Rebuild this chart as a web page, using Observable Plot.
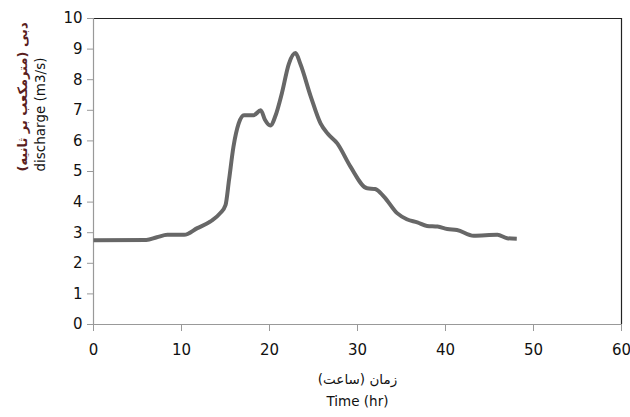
<!DOCTYPE html>
<html>
<head>
<meta charset="utf-8">
<script src="https://cdn.jsdelivr.net/npm/d3@7"></script>
<script src="https://cdn.jsdelivr.net/npm/@observablehq/plot@0.6"></script>
<style>
  html, body { margin: 0; padding: 0; background: #fff; }
  #chart svg { display: block; }
</style>
</head>
<body>
<div id="chart"></div>
<script>
// Data
const timeHr = [0, 6.0, 7.2, 8.4, 10.3, 11.8, 13.3, 14.4, 15.0, 15.4, 15.9, 16.5, 17.1, 18.2, 19.0, 19.5, 20.1, 20.7, 21.4, 22.2, 22.95, 23.5, 24.7, 25.8, 26.6, 27.7, 29.2, 31.1, 32.0, 33.0, 34.5, 35.6, 36.8, 37.9, 39.1, 40.2, 41.3, 43.2, 45.9, 47.0, 48.1];
const discharge = [2.75, 2.76, 2.85, 2.93, 2.93, 3.15, 3.37, 3.64, 3.9, 4.72, 5.8, 6.57, 6.84, 6.84, 7.0, 6.68, 6.5, 6.84, 7.55, 8.52, 8.87, 8.52, 7.44, 6.57, 6.24, 5.92, 5.16, 4.45, 4.43, 4.18, 3.64, 3.44, 3.34, 3.22, 3.2, 3.12, 3.09, 2.9, 2.93, 2.82, 2.8];
const xTicks = [0, 10, 20, 30, 40, 50, 60];
const yTicks = [0, 1, 2, 3, 4, 5, 6, 7, 8, 9, 10];
const yLabelFa = "دبی (مترمکعب بر ثانیه)";
const yLabelEn = "discharge (m3/s)";
const xLabelFa = "زمان (ساعت)";
const xLabelEn = "Time (hr)";

const data = timeHr.map((t, i) => ({t, q: discharge[i]}));

const chart = Plot.plot({
  width: 630,
  height: 417,
  marginLeft: 93,
  marginRight: 9,
  marginTop: 18,
  marginBottom: 93,
  style: {fontFamily: "'DejaVu Sans', sans-serif", fontSize: "14px", color: "#222", background: "#fff"},
  x: {domain: [0, 60]},
  y: {domain: [0, 10]},
  marks: [
    Plot.ruleY([10], {stroke: "#222", strokeWidth: 1.2}),
    Plot.ruleX([60], {stroke: "#222", strokeWidth: 1.2}),
    Plot.ruleY([0], {stroke: "#999", strokeWidth: 1.2}),
    Plot.ruleX([0], {stroke: "#999", strokeWidth: 1.2}),
    Plot.axisX({ticks: xTicks, tickSize: 7, tickPadding: 13, stroke: "#999", label: null, fontSize: 15, fill: "#111"}),
    Plot.axisY({ticks: yTicks, tickSize: 6, tickPadding: 5, stroke: "#999", label: null, fontSize: 15, fill: "#111"}),
    Plot.line(data, {x: "t", y: "q", stroke: "#676767", strokeWidth: 4, curve: "monotone-x", strokeLinejoin: "round", strokeLinecap: "butt"}),
    Plot.text([yLabelFa], {frameAnchor: "left", rotate: -90, dx: -71, fontSize: 13, fill: "#5a1e1e", fontWeight: "bold", fontFamily: "'DejaVu Sans', sans-serif"}),
    Plot.text([yLabelEn], {frameAnchor: "left", rotate: -90, dx: -53, fontSize: 13.5, fill: "#111"}),
    Plot.text([xLabelFa], {frameAnchor: "bottom", dy: 59, fontSize: 13.5, fill: "#111"}),
    Plot.text([xLabelEn], {frameAnchor: "bottom", dy: 81, fontSize: 13.5, fill: "#111"})
  ]
});
document.getElementById("chart").appendChild(chart);
</script>
</body>
</html>
